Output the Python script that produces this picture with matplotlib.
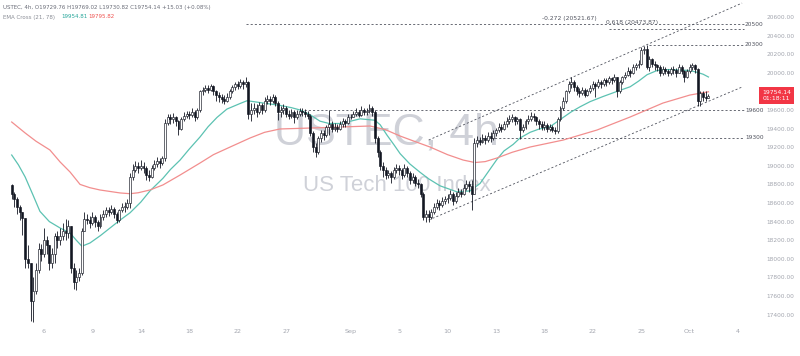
import matplotlib.pyplot as plt
import numpy as np

# USTEC 4h candles, Aug 2 -> Oct 2 (6 bars per trading day)
first_open = 18790
closes = [
    18700, 18640, 18560, 18500, 18440, 18000,  # Aug 2
    17950, 17550, 17650, 17880, 18100, 18050,  # Aug 5
    18200, 18150, 17950, 18050, 18250, 18200,  # Aug 6
    18250, 18300, 18280, 18350, 17900, 17750,  # Aug 7
    17800, 17850, 18300, 18430, 18420, 18380,  # Aug 8
    18450, 18400, 18350, 18450, 18480, 18520,  # Aug 9
    18500, 18540, 18480, 18420, 18520, 18560,  # Aug 12
    18560, 18600, 18880, 18950, 19000, 18980,  # Aug 13
    19000, 18980, 18900, 18880, 18980, 19020,  # Aug 14
    19050, 19030, 19080, 19460, 19520, 19500,  # Aug 15
    19520, 19480, 19400, 19500, 19540, 19560,  # Aug 16
    19550, 19580, 19520, 19600, 19800, 19820,  # Aug 19
    19840, 19820, 19860, 19800, 19760, 19740,  # Aug 20
    19720, 19700, 19740, 19800, 19850, 19880,  # Aug 21
    19860, 19900, 19880, 19900, 19560, 19600,  # Aug 22
    19620, 19580, 19650, 19600, 19700, 19720,  # Aug 23
    19700, 19740, 19680, 19580, 19600, 19620,  # Aug 26
    19560, 19540, 19580, 19520, 19560, 19590,  # Aug 27
    19580, 19560, 19540, 19350, 19200, 19150,  # Aug 28
    19300, 19350, 19330, 19420, 19450, 19400,  # Aug 29
    19420, 19400, 19450, 19480, 19460, 19520,  # Aug 30
    19530, 19560, 19580, 19550, 19600, 19580,  # Sep 2
    19590, 19620, 19580, 19300, 19150, 19000,  # Sep 3
    18950, 18900, 18920, 18880, 18950, 18980,  # Sep 4
    18950, 18900, 18980, 18920, 18850, 18880,  # Sep 5
    18820, 18800, 18700, 18450, 18480, 18450,  # Sep 6
    18500, 18560, 18600, 18580, 18620, 18640,  # Sep 9
    18650, 18700, 18620, 18680, 18720, 18700,  # Sep 10
    18760, 18800, 18780, 18700, 19250, 19280,  # Sep 11
    19260, 19300, 19280, 19320, 19300, 19350,  # Sep 12
    19380, 19420, 19400, 19450, 19480, 19500,  # Sep 13
    19520, 19480, 19500, 19380, 19420, 19480,  # Sep 16
    19500, 19540, 19520, 19480, 19450, 19420,  # Sep 17
    19440, 19400, 19420, 19380, 19370, 19500,  # Sep 18
    19620, 19700, 19800, 19880, 19900, 19850,  # Sep 19
    19800, 19780, 19820, 19760, 19800, 19840,  # Sep 20
    19880, 19860, 19900, 19880, 19920, 19900,  # Sep 23
    19940, 19920, 19960, 19800, 19900, 19950,  # Sep 24
    19980, 20020, 20000, 20060, 20080, 20100,  # Sep 25
    20250, 20260, 20060, 20150, 20100, 20080,  # Sep 26
    20060, 20000, 20040, 20020, 20000, 20040,  # Sep 27
    20030, 20000, 20060, 20020, 19950, 20020,  # Sep 30
    20060, 20080, 20040, 19700, 19780, 19740,  # Oct 1
    19729.76, 19754.14,                        # Oct 2
]
highs = [
    18800, 18720, 18660, 18580, 18500, 18440,
    18150, 17960, 17800, 17950, 18170, 18160,
    18330, 18250, 18150, 18120, 18280, 18300,
    18330, 18380, 18430, 18420, 18350, 17950,
    17880, 17900, 18330, 18500, 18480, 18460,
    18500, 18470, 18420, 18480, 18530, 18560,
    18560, 18580, 18560, 18500, 18540, 18600,
    18610, 18640, 18920, 19020, 19050, 19040,
    19060, 19040, 19000, 18960, 19010, 19060,
    19090, 19080, 19110, 19500, 19560, 19560,
    19570, 19540, 19490, 19530, 19580, 19590,
    19590, 19620, 19600, 19620, 19820, 19850,
    19870, 19870, 19880, 19870, 19820, 19790,
    19770, 19760, 19780, 19830, 19870, 19900,
    19910, 19930, 19920, 19960, 19910, 19680,
    19680, 19660, 19690, 19680, 19740, 19760,
    19750, 19770, 19760, 19700, 19640, 19660,
    19640, 19600, 19610, 19600, 19600, 19620,
    19620, 19610, 19590, 19560, 19370, 19240,
    19320, 19380, 19390, 19440, 19600, 19480,
    19460, 19450, 19480, 19510, 19500, 19560,
    19560, 19590, 19620, 19600, 19640, 19620,
    19620, 19660, 19640, 19600, 19320, 19170,
    19040, 18990, 18960, 18940, 18990, 19020,
    19010, 18980, 19020, 19000, 18940, 18920,
    18900, 18860, 18820, 18720, 18530, 18520,
    18540, 18600, 18640, 18630, 18660, 18680,
    18700, 18740, 18720, 18720, 18760, 18750,
    18800, 18850, 18840, 18850, 19300, 19320,
    19310, 19340, 19330, 19360, 19360, 19380,
    19410, 19460, 19450, 19480, 19520, 19550,
    19560, 19540, 19530, 19510, 19450, 19500,
    19550, 19580, 19570, 19540, 19500, 19480,
    19480, 19460, 19450, 19440, 19420, 19520,
    19640, 19740, 19820, 19910, 19960, 19920,
    19870, 19840, 19850, 19840, 19830, 19870,
    19910, 19900, 19930, 19920, 19940, 19940,
    19970, 19960, 19990, 19960, 19920, 19970,
    20010, 20060, 20040, 20090, 20110, 20140,
    20280, 20290, 20300, 20180, 20160, 20130,
    20100, 20080, 20070, 20060, 20040, 20060,
    20070, 20050, 20090, 20080, 20030, 20040,
    20090, 20110, 20100, 20050, 19800, 19800,
    19800, 19769.02,
]
lows = [
    18640, 18560, 18480, 18420, 18260, 17900,
    17900, 17330, 17320, 17620, 17850, 17980,
    18020, 18050, 17880, 17900, 17950, 18120,
    18150, 18200, 18200, 18220, 17850, 17680,
    17660, 17760, 17830, 18300, 18370, 18330,
    18360, 18340, 18300, 18330, 18420, 18450,
    18460, 18480, 18440, 18380, 18400, 18500,
    18500, 18540, 18550, 18850, 18930, 18920,
    18950, 18920, 18850, 18840, 18870, 18950,
    18990, 18980, 19010, 19050, 19440, 19450,
    19460, 19430, 19330, 19390, 19480, 19510,
    19500, 19520, 19480, 19500, 19580, 19760,
    19790, 19780, 19800, 19760, 19700, 19690,
    19680, 19660, 19690, 19720, 19780, 19820,
    19830, 19840, 19830, 19850, 19500, 19480,
    19560, 19520, 19560, 19560, 19580, 19660,
    19650, 19680, 19640, 19490, 19520, 19560,
    19520, 19500, 19510, 19460, 19500, 19540,
    19540, 19520, 19500, 19320, 19150, 19090,
    19130, 19260, 19280, 19310, 19330, 19360,
    19370, 19360, 19380, 19420, 19420, 19450,
    19500, 19520, 19540, 19520, 19540, 19550,
    19550, 19570, 19540, 19250, 19100, 18950,
    18880, 18860, 18870, 18820, 18860, 18920,
    18900, 18860, 18880, 18880, 18800, 18820,
    18780, 18760, 18660, 18420, 18400, 18400,
    18430, 18480, 18540, 18530, 18560, 18590,
    18600, 18630, 18580, 18600, 18660, 18660,
    18690, 18740, 18720, 18520, 18700, 19200,
    19220, 19240, 19230, 19260, 19260, 19280,
    19320, 19360, 19360, 19380, 19420, 19450,
    19470, 19440, 19450, 19290, 19360, 19400,
    19450, 19480, 19480, 19440, 19400, 19380,
    19390, 19360, 19370, 19360, 19340, 19350,
    19480, 19600, 19680, 19780, 19840, 19800,
    19760, 19740, 19760, 19740, 19750, 19780,
    19820, 19740, 19840, 19840, 19860, 19860,
    19880, 19880, 19900, 19740, 19780, 19880,
    19930, 19970, 19960, 19990, 20030, 20050,
    20080, 20200, 20040, 20020, 20060, 20030,
    20020, 19970, 19980, 19990, 19970, 19980,
    19990, 19960, 20000, 19990, 19900, 19940,
    20000, 20030, 20000, 19640, 19640, 19700,
    19700, 19730.82,
]

# EMA Cross (21, 78) read at bar positions
ema21_bar = [0, 2.5, 5, 8, 10.5, 14, 18, 21.7, 24, 26.1, 29.1, 33, 36.5, 40, 44, 48,
             51.4, 56.2, 59, 62.6, 66, 70, 73, 76.3, 80, 84.9, 87.5, 92.3, 99.7, 104,
             107.2, 110.9, 114.6, 118, 122, 126, 129.5, 135, 137, 139.5, 142, 144.4,
             148, 151.8, 155, 159.2, 165.5, 170.4, 174.1, 177, 180.4, 183, 186.4, 189,
             192.7, 196, 200.1, 205, 208, 211.3, 215, 219.8, 225, 229.9, 233, 236.2,
             239.9, 244, 248.4, 252, 254.8, 257, 259]
ema21 = [19116, 19010, 18880, 18680, 18510, 18400, 18331, 18277, 18200, 18135, 18170,
         18250, 18330, 18410, 18495, 18610, 18730, 18865, 18960, 19062, 19180, 19310,
         19420, 19520, 19610, 19670, 19700, 19680, 19650, 19625, 19600, 19550, 19480,
         19455, 19455, 19480, 19505, 19490, 19440, 19330, 19230, 19130, 19020, 18930,
         18860, 18785, 18720, 18730, 18810, 18930, 19070, 19160, 19230, 19300, 19360,
         19395, 19420, 19520, 19580, 19635, 19690, 19745, 19800, 19850, 19910, 19980,
         20025, 20035, 20030, 20025, 20005, 19985, 19955]
ema78_bar = [0, 5, 9, 14.2, 18, 21.7, 25.4, 29, 32.8, 40.3, 44, 47, 51.4, 56.2, 62.6,
             70, 75, 81.2, 88.6, 94, 99.7, 110.9, 122, 133.2, 138.8, 144.4, 150, 155.5,
             162, 167.8, 172.2, 176, 180.4, 186, 192.7, 205, 217.6, 229.9, 242.1, 252.1,
             259]
ema78 = [19471, 19353, 19265, 19170, 19041, 18933, 18800, 18765, 18740, 18708, 18700,
         18710, 18740, 18794, 18901, 19030, 19120, 19202, 19299, 19360, 19396, 19406,
         19417, 19428, 19390, 19320, 19260, 19202, 19120, 19062, 19035, 19045, 19084,
         19145, 19202, 19277, 19385, 19525, 19675, 19761, 19796]

# x axis: day labels and the trading-day number they sit on
date_labels = ['6', '9', '14', '18', '22', '27', 'Sep', '5', '10', '13', '18', '22', '25', 'Oct', '4']
date_days = [2, 5, 8, 11, 14, 17, 21, 24, 27, 30, 33, 36, 39, 42, 45]
bars_per_day = 6

price_ticks = list(range(17400, 20601, 200))

# drawn levels
level_prices = [20521.67, 20473.87, 20300, 19600, 19300]
level_start_bar = [87, 222, 237, 107, 175]
level_tags = ['20500', '', '20300', '19600', '19300']
fib_texts = ['-0.272 (20521.67)', '0.618 (20473.87)']
fib_text_bar = [197, 221]

channel_bars = [155, 271.5]
channel_upper = [19277, 20750]
channel_lower = [18417, 19847]

o = np.array([first_open] + closes[:-1], dtype=float)
c = np.array(closes, dtype=float)
h = np.maximum(np.array(highs, dtype=float), np.maximum(o, c))
l = np.minimum(np.array(lows, dtype=float), np.minimum(o, c))
x = np.arange(len(c))
up = c >= o

ink = '#131722'
fig = plt.figure(figsize=(8, 3.56), dpi=100)
ax = fig.add_axes([0, 31 / 356, 748 / 800, 325 / 356])
ax.set_xlim(-4.35, 273.7)
ax.set_ylim(17288, 20783)

# watermark
ax.text(0.516, 0.59, 'USTEC, 4h', transform=ax.transAxes, ha='center', va='center',
        fontsize=32, color='#cfd1d8', family=['Liberation Sans Narrow', 'Liberation Sans'], zorder=0)
ax.text(0.53, 0.43, 'US Tech 100 Index', transform=ax.transAxes, ha='center', va='center',
        fontsize=16, color='#cfd1d8', family=['Liberation Sans Narrow', 'Liberation Sans'], zorder=0)

# candles
ax.vlines(x, l, h, color=ink, lw=0.6, zorder=3)
body = np.maximum(np.abs(c - o), 8)
ax.bar(x, body, bottom=np.minimum(o, c), width=0.72,
       color=np.where(up, '#ffffff', ink), edgecolor=ink, linewidth=0.45, zorder=4)

# EMA lines
ax.plot(ema21_bar, ema21, color='#5cc2b2', lw=0.9, zorder=2)
ax.plot(ema78_bar, ema78, color='#f28e8e', lw=0.9, zorder=2)

# levels
dash = dict(color='#50535e', lw=0.6, linestyle=(0, (2.5, 2.5)), zorder=1)
for p, s in zip(level_prices, level_start_bar):
    ax.plot([s, 272.3], [p, p], **dash)
for p, t in zip(level_prices, level_tags):
    if t:
        ax.text(272.6, p, t, fontsize=4.2, color='#50535e', va='center', ha='left', clip_on=False)
for p, t, s in zip(level_prices[:2], fib_texts, fib_text_bar):
    ax.text(s, p + 40, t, fontsize=4.3, color='#50535e', va='bottom', ha='left')
ax.plot(channel_bars, channel_upper, **dash)
ax.plot(channel_bars, channel_lower, **dash)

# axes
for sp in ax.spines.values():
    sp.set_visible(False)
ax.yaxis.tick_right()
ax.set_yticks(price_ticks)
# the 19800 label sits under the last-price tag
ax.set_yticklabels(['' if p == 19800 else f'{p:.2f}' for p in price_ticks])
ax.tick_params(axis='y', length=0, pad=13.5, labelsize=4.2, labelcolor='#a3a6af')
ax.set_xticks([d * bars_per_day for d in date_days])
ax.set_xticklabels(date_labels)
ax.tick_params(axis='x', length=0, pad=3, labelsize=4.6, labelcolor='#a3a6af')

# last price tag
ax.annotate(f'{c[-1]:.2f}\n01:18:11', xy=(1, c[-1]), xycoords=('axes fraction', 'data'),
            xytext=(20.5, 0), textcoords='offset points', ha='center', va='center',
            fontsize=4.4, color='white', linespacing=1.3,
            bbox=dict(boxstyle='square,pad=0.45', fc='#f23645', ec='none'), annotation_clip=False)

# header
fig.text(3 / 800, 1 - 7 / 356, 'USTEC, 4h, O19729.76 H19769.02 L19730.82 C19754.14 +15.03 (+0.08%)',
         fontsize=4.0, color='#6a6d78', va='center')
fig.text(3 / 800, 1 - 17 / 356, 'EMA Cross (21, 78)', fontsize=4.0, color='#8a8d96', va='center')
fig.text(61 / 800, 1 - 17 / 356, '19954.81', fontsize=4.0, color='#26a69a', va='center')
fig.text(88 / 800, 1 - 17 / 356, '19795.82', fontsize=4.0, color='#ef5350', va='center')

fig.savefig('out.png', dpi=100)
